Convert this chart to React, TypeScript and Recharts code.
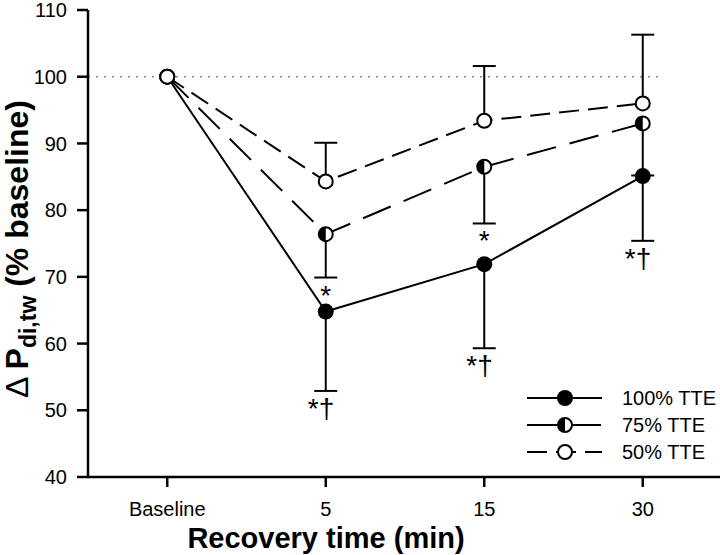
import React from "react";
import {
  ComposedChart,
  Line,
  Scatter,
  XAxis,
  YAxis,
  ErrorBar,
  ReferenceLine,
  Legend,
} from "recharts";

// values (means and one-sided SD whiskers)
const categories = ["Baseline", "5", "15", "30"];
const tte100 = [100, 64.8, 71.9, 85.1];
const tte100Sd = [0, 11.9, 12.6, 9.7];
const tte75 = [100, 76.4, 86.5, 93.0];
const tte75Sd = [0, 6.5, 8.5, 7.8];
const tte50 = [100, 84.3, 93.4, 96.0];
const tte50Sd = [0, 5.8, 8.2, 10.3];
const marks100 = ["", "*†", "*†", "*†"];
const marks75 = ["", "*", "*", ""];
const yTicks = [40, 50, 60, 70, 80, 90, 100, 110];

const FONT = "'Liberation Sans', Arial, Helvetica, sans-serif";
const DASH75 = "30 14";
const DASH50 = "20 9";
const R = 7;

const data = categories.map((cat, i) => ({
  cat,
  m100: tte100[i],
  e100: [tte100Sd[i], 0],
  cap100: tte100Sd[i] ? tte100[i] - tte100Sd[i] : null,
  mark100: marks100[i],
  m75: tte75[i],
  e75: [tte75Sd[i], 0],
  cap75: tte75Sd[i] ? tte75[i] - tte75Sd[i] : null,
  mark75: marks75[i],
  m50: tte50[i],
  e50: [0, tte50Sd[i]],
  cap50: tte50Sd[i] ? tte50[i] + tte50Sd[i] : null,
  mark50: "",
}));

type Kind = "filled" | "half" | "open";

function Marker({ cx, cy, kind }: { cx: number; cy: number; kind: Kind }) {
  if (kind === "filled") {
    return <circle cx={cx} cy={cy} r={R + 1} fill="#000" />;
  }
  if (kind === "half") {
    return (
      <g>
        <circle cx={cx} cy={cy} r={R} fill="#fff" stroke="#000" strokeWidth={2} />
        <path d={`M${cx},${cy - R} A${R},${R} 0 0,0 ${cx},${cy + R} Z`} fill="#000" />
      </g>
    );
  }
  return <circle cx={cx} cy={cy} r={R} fill="#fff" stroke="#000" strokeWidth={2} />;
}

const makeDot = (kind: Kind) => (props: any) => (
  <Marker key={`${kind}-${props.index}`} cx={props.cx} cy={props.cy} kind={kind} />
);

const makeCap = (capKey: string, markKey: string) => (props: any) => {
  const { cx, cy, payload } = props;
  if (payload == null || payload[capKey] == null || !Number.isFinite(cy)) return <g />;
  const mark: string = payload[markKey];
  return (
    <g>
      <line x1={cx - 11.5} x2={cx + 11.5} y1={cy} y2={cy} stroke="#000" strokeWidth={2} />
      {mark ? (
        <text
          x={mark.length > 1 ? cx - 18 : cx}
          y={cy + 27}
          textAnchor={mark.length > 1 ? "start" : "middle"}
          fontSize={28}
          fontFamily={FONT}
          fill="#000"
        >
          {mark}
        </text>
      ) : null}
    </g>
  );
};

const legendItems: { label: string; kind: Kind; dash?: string }[] = [
  { label: "100% TTE", kind: "filled" },
  { label: "75% TTE", kind: "half", dash: DASH75 },
  { label: "50% TTE", kind: "open", dash: DASH50 },
];

function LegendBox() {
  return (
    <svg width={205} height={84}>
      {legendItems.map((it, i) => {
        const y = 15 + i * 27;
        return (
          <g key={it.label}>
            <line x1={12} x2={87} y1={y} y2={y} stroke="#000" strokeWidth={2} strokeDasharray={it.dash} />
            <Marker cx={50} cy={y} kind={it.kind} />
            <text x={107} y={y} dy="0.35em" fontSize={20} fontFamily={FONT} fill="#000">
              {it.label}
            </text>
          </g>
        );
      })}
    </svg>
  );
}

const YLabel = () => (
  <text
    transform="translate(28,249) rotate(-90)"
    textAnchor="middle"
    fontFamily={FONT}
    fontSize={32}
    fontWeight="bold"
    fill="#000"
  >
    <tspan fontWeight="normal">Δ </tspan>
    <tspan>P</tspan>
    <tspan fontSize={23} dy={8}>di,tw</tspan>
    <tspan dy={-8}> (% baseline)</tspan>
  </text>
);

const XLabel = () => (
  <text x={326} y={548} textAnchor="middle" fontFamily={FONT} fontSize={29} fontWeight="bold" fill="#000">
    Recovery time (min)
  </text>
);

export default function App() {
  const tick = { fontSize: 20, fill: "#000", fontFamily: FONT };
  const axisLine = { stroke: "#000", strokeWidth: 2.5 };
  return (
    <div style={{ position: "absolute", left: 0, top: 0, background: "#fff" }}>
      <ComposedChart width={720} height={555} data={data} margin={{ top: 10, right: -2, bottom: 0, left: 0 }}>
        <XAxis
          dataKey="cat"
          scale="band"
          height={78}
          tick={tick}
          tickSize={10}
          tickMargin={15}
          axisLine={axisLine}
          tickLine={axisLine}
          label={{ content: XLabel }}
        />
        <YAxis
          width={88}
          domain={[40, 110]}
          ticks={yTicks}
          interval={0}
          allowDataOverflow
          tick={tick}
          tickSize={11}
          tickMargin={10}
          axisLine={axisLine}
          tickLine={axisLine}
          label={{ content: YLabel }}
        />
        <ReferenceLine
          y={100}
          stroke="#888"
          strokeWidth={1.5}
          strokeDasharray="2 6"
          shape={(p: any) => (
            <line x1={p.x1} x2={p.x2 - 60} y1={p.y1} y2={p.y2} stroke="#888" strokeWidth={1.5} strokeDasharray="2 6" />
          )}
        />
        <Line
          dataKey="m100"
          stroke="#000"
          strokeWidth={2}
          dot={makeDot("filled")}
          activeDot={false}
          isAnimationActive={false}
        >
          <ErrorBar dataKey="e100" width={0} stroke="#000" strokeWidth={2} direction="y" />
        </Line>
        <Line
          dataKey="m75"
          stroke="#000"
          strokeWidth={2}
          strokeDasharray={DASH75}
          dot={makeDot("half")}
          activeDot={false}
          isAnimationActive={false}
        >
          <ErrorBar dataKey="e75" width={0} stroke="#000" strokeWidth={2} direction="y" />
        </Line>
        <Line
          dataKey="m50"
          stroke="#000"
          strokeWidth={2}
          strokeDasharray={DASH50}
          dot={makeDot("open")}
          activeDot={false}
          isAnimationActive={false}
        >
          <ErrorBar dataKey="e50" width={0} stroke="#000" strokeWidth={2} direction="y" />
        </Line>
        <Scatter dataKey="cap100" shape={makeCap("cap100", "mark100")} isAnimationActive={false} />
        <Scatter dataKey="cap75" shape={makeCap("cap75", "mark75")} isAnimationActive={false} />
        <Scatter dataKey="cap50" shape={makeCap("cap50", "mark50")} isAnimationActive={false} />
        <Legend
          layout="vertical"
          align="center"
          verticalAlign="middle"
          content={() => <LegendBox />}
          wrapperStyle={{ position: "absolute", left: 515, top: 383, width: 205, height: 84 }}
        />
      </ComposedChart>
    </div>
  );
}
